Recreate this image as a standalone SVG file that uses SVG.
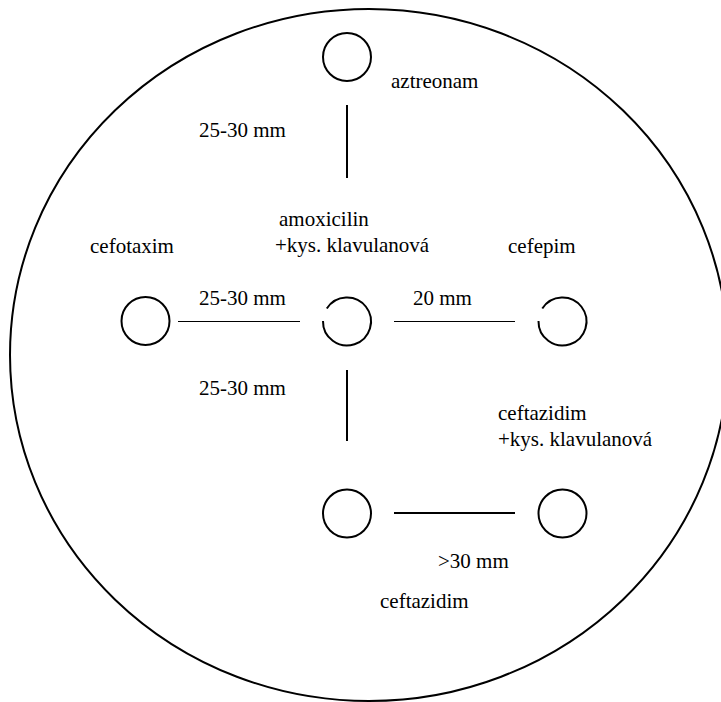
<svg xmlns="http://www.w3.org/2000/svg" width="721" height="702" viewBox="0 0 721 702">
<style>
.plate{fill:none;stroke:#000;stroke-width:2}
.disc{fill:none;stroke:#000;stroke-width:2}
.thin{stroke:#000;stroke-width:1}
.thick{stroke:#000;stroke-width:2}
</style>
<rect width="721" height="702" fill="#fff"/>
<ellipse class="plate" cx="369" cy="355" rx="359" ry="346"/>
<g id="connectors">
<line class="thick" x1="347" y1="105" x2="347" y2="178"/>
<line class="thin" x1="178" y1="321.5" x2="300" y2="321.5"/>
<line class="thin" x1="394" y1="321.5" x2="515" y2="321.5"/>
<line class="thick" x1="347" y1="370" x2="347" y2="441"/>
<line class="thick" x1="394" y1="513" x2="515" y2="513"/>
</g>
<g font-family="Liberation Serif, DejaVu Serif, serif" font-size="21" fill="#000">
<g id="aztreonam"><circle class="disc" cx="347" cy="57" r="24"/><text x="391" y="88">aztreonam</text></g>
<g id="amoxicilin"><path class="disc" d="M326.8,308.5 A24,24 0 1 1 323,321"/><text x="279" y="226">amoxicilin</text><text x="275" y="252">+kys. klavulanová</text></g>
<g id="cefotaxim"><circle class="disc" cx="145.5" cy="321" r="24"/><text x="90" y="253">cefotaxim</text></g>
<g id="cefepim"><path class="disc" d="M542.3,308.5 A24,24 0 1 1 538.5,321"/><text x="508" y="253">cefepim</text></g>
<g id="ceftazidim"><circle class="disc" cx="347" cy="513.5" r="24"/><text x="380" y="608">ceftazidim</text></g>
<g id="ceftazidim-klav"><circle class="disc" cx="562.5" cy="513.5" r="24"/><text x="498" y="420">ceftazidim</text><text x="498" y="446">+kys. klavulanová</text></g>
<g id="labels">
<text x="199" y="137">25-30 mm</text>
<text x="199" y="305">25-30 mm</text>
<text x="413" y="305">20 mm</text>
<text x="199" y="395">25-30 mm</text>
<text x="438" y="568">&gt;30 mm</text>
</g>
</g>
</svg>
